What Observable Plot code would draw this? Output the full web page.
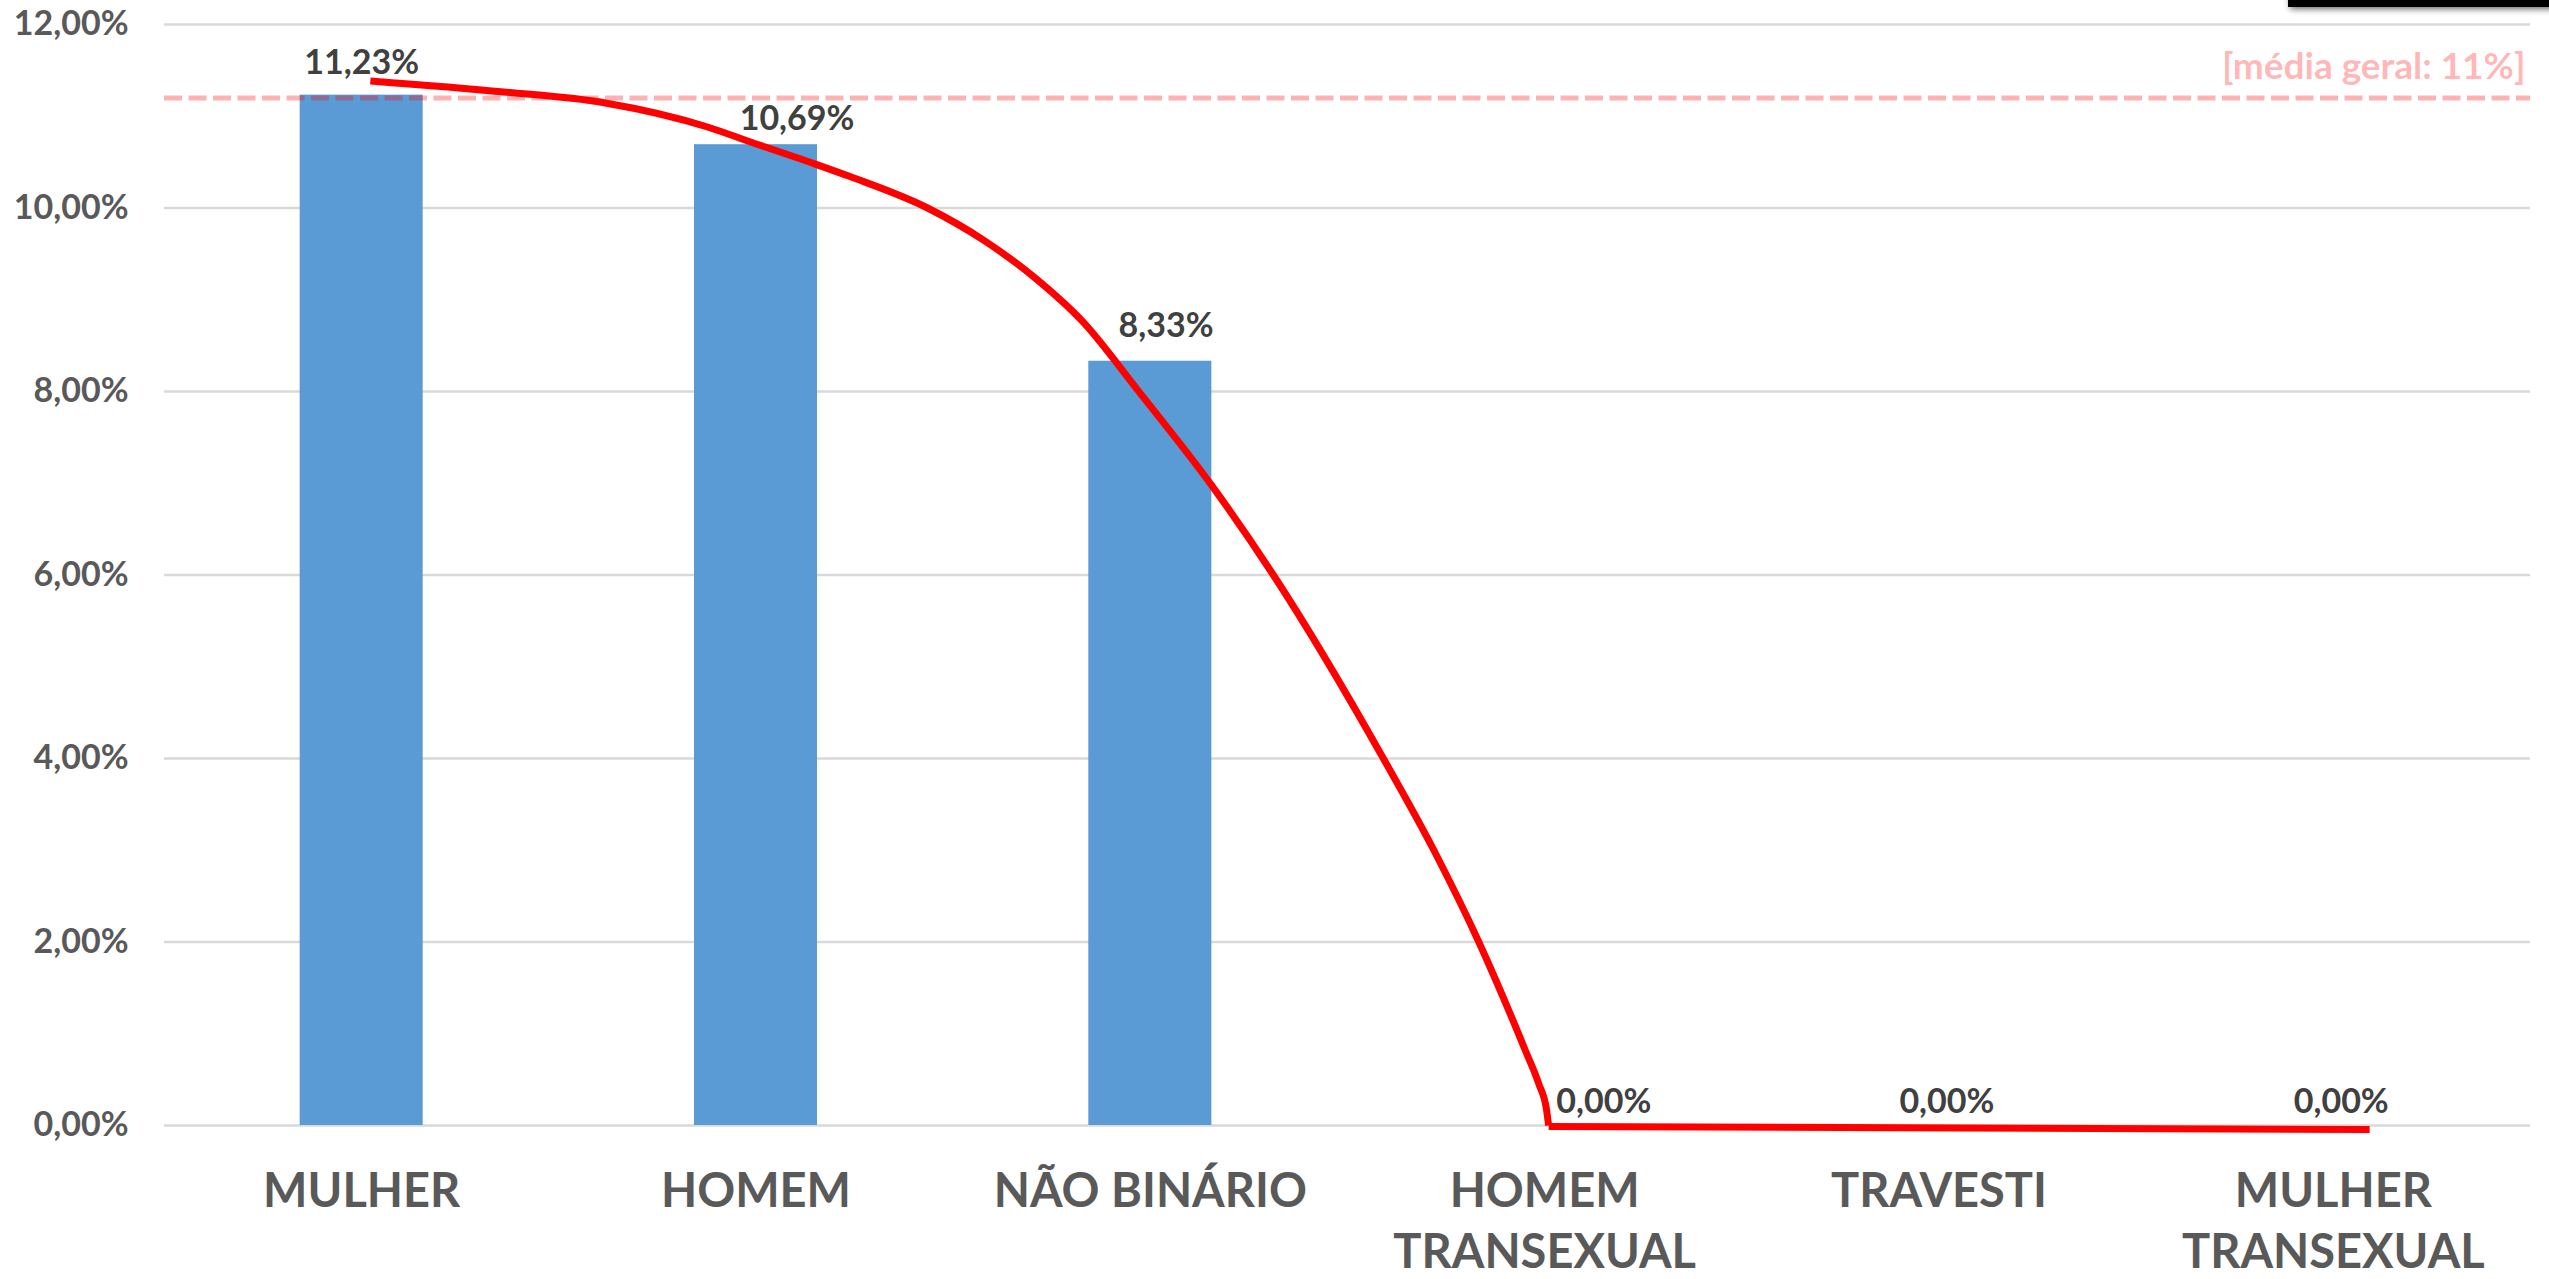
<!DOCTYPE html>
<html><head><meta charset="utf-8">
<script src="https://cdn.jsdelivr.net/npm/d3@7"></script>
<script src="https://cdn.jsdelivr.net/npm/@observablehq/plot@0.6"></script>
<style>
body{margin:0;background:#fff;}
#chart{position:relative;width:2549px;height:1279px;overflow:hidden;background:#fff}
#corner{position:absolute;left:2288px;top:-12px;width:300px;height:19px;background:#000;box-shadow:2px 2px 6px rgba(0,0,0,0.6);}
</style></head><body><div id="chart"><div id="corner"></div></div>
<script>
const categories = ["MULHER", "HOMEM", "NÃO BINÁRIO", "HOMEM\nTRANSEXUAL", "TRAVESTI", "MULHER\nTRANSEXUAL"];
const values = [11.23, 10.69, 8.33, 0, 0, 0];
const yTicks = [0, 2, 4, 6, 8, 10, 12];
const mediaGeral = 11.2;
const mediaLabel = "[média geral: 11%]";
// hand-drawn red trend annotation (x in category index units, y in %)
const curveX = [0.022, 0.360, 0.618, 0.877, 0.986, 1.156, 1.240, 1.435, 1.577, 1.704, 1.831, 1.967, 2.155, 2.312, 2.591, 2.719, 2.833, 2.880, 2.951, 2.985, 3.005, 3.010];
const curveY = [11.385, 11.265, 11.145, 10.883, 10.72, 10.47, 10.34, 10.0, 9.65, 9.25, 8.75, 8.02, 6.98, 6.0, 4.0, 3.0, 2.0, 1.545, 0.818, 0.455, 0.164, 0.0];
const flatX = [3.010, 5.092];
const flatY = [-0.01, -0.044];

const bars = categories.map((c, i) => ({i, c, v: values[i]}));
const curvePts = curveX.map((x, k) => ({x, y: curveY[k]}));
const flatPts = flatX.map((x, k) => ({x, y: flatY[k]}));
const fmt = v => v.toFixed(2).replace(".", ",") + "%";
const labelShift = [0, 0.104, 0.04, 0.15, 0.02, 0.02];
const labelGap = [0.23, 0.16, 0.26, 0.14, 0.14, 0.14];

const chart = Plot.plot({
  width: 2549,
  height: 1279,
  marginLeft: 164,
  marginRight: 19,
  marginTop: 24,
  marginBottom: 154,
  style: {fontFamily: "Lato, 'Open Sans', sans-serif", background: "#fff"},
  x: {type: "linear", domain: [-0.5, 5.5]},
  y: {domain: [0, 12]},
  marks: [
    Plot.ruleY(yTicks, {stroke: "#d9d9d9", strokeWidth: 2.5}),
    Plot.axisY({ticks: yTicks, tickSize: 0, tickPadding: 36, tickFormat: fmt, fontSize: 34, fontWeight: "bold", fill: "#595959", label: null}),
    Plot.axisX({ticks: d3.range(categories.length), tickSize: 0, tickPadding: 38, tickFormat: i => categories[i], fontSize: 47, fontWeight: "bold", fill: "#595959", lineHeight: 1.3, label: null}),
    Plot.rectY(bars, {x1: d => d.i - 0.156, x2: d => d.i + 0.156, y: "v", fill: "#5b9bd5"}),
    Plot.ruleY([mediaGeral], {stroke: "red", strokeOpacity: 0.3, strokeWidth: 5, strokeDasharray: "18,6.5"}),
    Plot.text([mediaLabel], {x: 5.5, y: mediaGeral, text: d => d, textAnchor: "end", lineAnchor: "bottom", dx: -5, dy: -19, fill: "red", fillOpacity: 0.3, fontSize: 37, fontWeight: "bold"}),
    Plot.line(curvePts, {x: "x", y: "y", curve: "monotone-x", stroke: "red", strokeWidth: 7, strokeLinecap: "butt"}),
    Plot.line(flatPts, {x: "x", y: "y", stroke: "red", strokeWidth: 7, strokeLinecap: "butt"}),
    Plot.text(bars, {x: d => d.i + labelShift[d.i], y: d => d.v + labelGap[d.i], text: d => fmt(d.v), textAnchor: "middle", lineAnchor: "bottom", fill: "#404040", fontSize: 34, fontWeight: "bold"})
  ]
});
document.getElementById("chart").prepend(chart);
</script>
</body></html>
